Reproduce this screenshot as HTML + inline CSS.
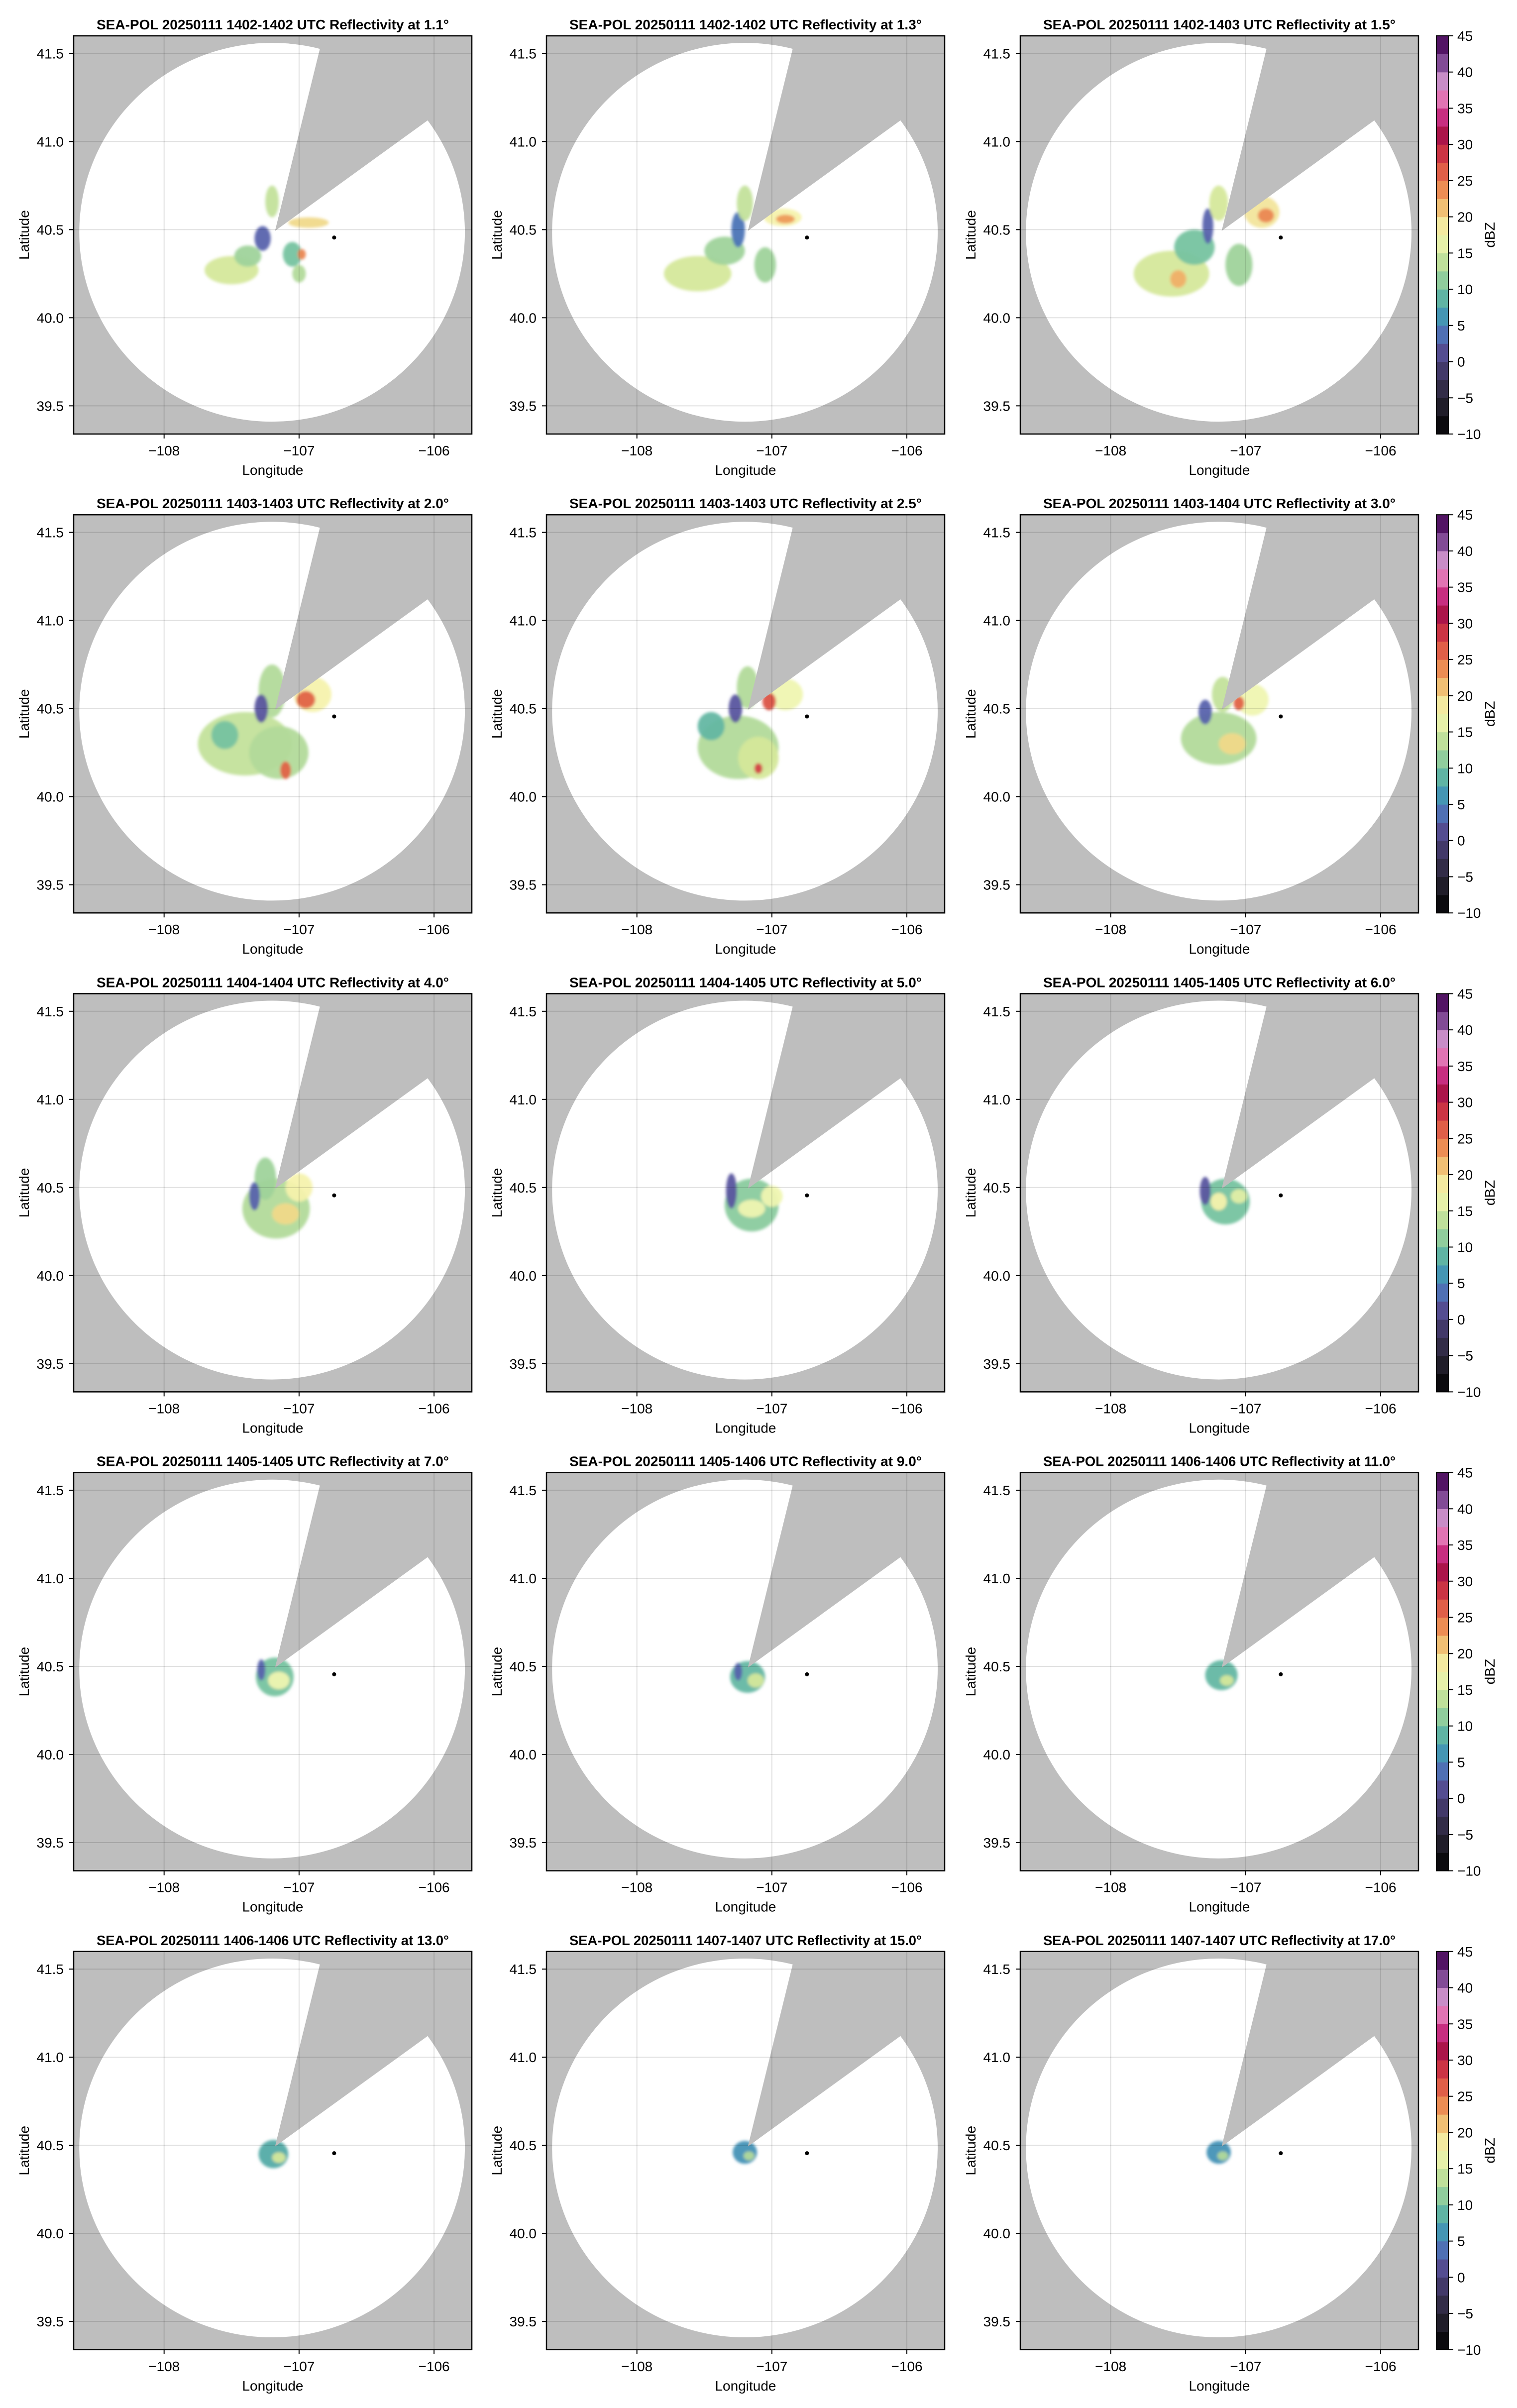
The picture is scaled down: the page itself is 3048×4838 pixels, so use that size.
<!DOCTYPE html>
<html><head><meta charset="utf-8"><style>
html,body{margin:0;padding:0;background:#fff;}
svg{display:block;font-family:"Liberation Sans",Arial,sans-serif;}
</style></head><body>
<svg id="fig" xmlns="http://www.w3.org/2000/svg" width="3048" height="4838" viewBox="0 0 3048 4838">
<rect x="0" y="0" width="3048" height="4838" fill="#fff"/>
<defs><filter id="soft" x="-20%" y="-20%" width="140%" height="140%"><feGaussianBlur stdDeviation="3"/></filter></defs>
</svg>
<script>
const elevations=[1.1,1.3,1.5,2.0,2.5,3.0,4.0,5.0,6.0,7.0,9.0,11.0,13.0,15.0,17.0];
const times=["1402-1402","1402-1402","1402-1403","1403-1403","1403-1403","1403-1404","1404-1404","1404-1405","1405-1405","1405-1405","1405-1406","1406-1406","1406-1406","1407-1407","1407-1407"];
const xTicks=[-108,-107,-106];
const xTickLabels=["\u2212108","\u2212107","\u2212106"];
const yTicks=[39.5,40.0,40.5,41.0,41.5];
const yTickLabels=["39.5","40.0","40.5","41.0","41.5"];
const cbTicks=[-10,-5,0,5,10,15,20,25,30,35,40,45];
const cbTickLabels=["\u221210","\u22125","0","5","10","15","20","25","30","35","40","45"];
const radarLon=-107.178, radarLat=40.493;
const rangeCenterLon=-107.20, rangeCenterLat=40.485, rangeRLon=1.4285, rangeRLat=1.075;
const blockEdge1=[-106.845,41.529];
const blockEdge2=[-106.051,41.118];
const markerLon=-106.74, markerLat=40.455;
// echo blobs: [lon, lat, radiusLon, radiusLat, dBZ]
const echo1=[[-107.5,40.27,0.2,0.08,15],[-107.38,40.35,0.1,0.06,12],[-107.27,40.45,0.06,0.07,3],[-107.2,40.66,0.05,0.09,14],[-106.93,40.54,0.15,0.03,20],[-107.05,40.36,0.07,0.07,10],[-107.0,40.25,0.05,0.05,13],[-106.98,40.36,0.03,0.03,24]];
const echo2=[[-107.55,40.25,0.25,0.1,15],[-107.35,40.38,0.15,0.08,12],[-107.25,40.5,0.05,0.1,4],[-107.2,40.65,0.06,0.1,14],[-106.92,40.57,0.14,0.05,18],[-106.9,40.56,0.07,0.025,23],[-107.05,40.3,0.08,0.1,12]];
const echo3=[[-107.55,40.25,0.28,0.13,15],[-107.38,40.4,0.15,0.1,10],[-107.28,40.52,0.04,0.1,3],[-107.2,40.65,0.07,0.1,15],[-106.88,40.6,0.13,0.09,19],[-106.85,40.58,0.06,0.04,24],[-107.05,40.3,0.1,0.12,12],[-107.5,40.22,0.06,0.05,22]];
const echo4=[[-107.4,40.3,0.35,0.18,14],[-107.15,40.25,0.22,0.15,13],[-107.2,40.6,0.1,0.15,13],[-107.28,40.5,0.05,0.08,2],[-106.9,40.58,0.14,0.1,18],[-106.95,40.55,0.07,0.05,26],[-107.1,40.15,0.04,0.05,26],[-107.55,40.35,0.1,0.08,10]];
const echo5=[[-107.25,40.28,0.3,0.18,13],[-107.1,40.22,0.15,0.12,15],[-107.18,40.62,0.08,0.12,13],[-107.27,40.5,0.05,0.08,2],[-106.9,40.58,0.13,0.09,17],[-107.02,40.54,0.05,0.05,27],[-107.1,40.16,0.03,0.03,28],[-107.45,40.4,0.1,0.08,9]];
const echo6=[[-107.2,40.33,0.28,0.15,13],[-107.17,40.58,0.08,0.1,14],[-107.3,40.48,0.05,0.07,3],[-106.95,40.55,0.12,0.09,17],[-107.05,40.53,0.04,0.04,26],[-107.1,40.3,0.1,0.06,20]];
const echo7=[[-107.17,40.38,0.25,0.17,13],[-107.25,40.55,0.08,0.12,12],[-107.33,40.45,0.04,0.08,3],[-107.0,40.5,0.1,0.08,18],[-107.1,40.35,0.1,0.06,20]];
const echo8=[[-107.15,40.4,0.2,0.15,11],[-107.3,40.48,0.04,0.1,2],[-107.0,40.45,0.08,0.06,17],[-107.15,40.38,0.1,0.05,17]];
const echo9=[[-107.15,40.42,0.18,0.13,10],[-107.3,40.48,0.04,0.08,2],[-107.05,40.45,0.06,0.04,16],[-107.2,40.42,0.06,0.05,18]];
const echo10=[[-107.18,40.44,0.14,0.11,10],[-107.28,40.48,0.03,0.06,3],[-107.15,40.42,0.08,0.05,17]];
const echo11=[[-107.18,40.44,0.13,0.09,9],[-107.25,40.47,0.03,0.05,3],[-107.12,40.42,0.06,0.04,15]];
const echo12=[[-107.18,40.45,0.12,0.085,9],[-107.14,40.42,0.05,0.03,15]];
const echo13=[[-107.19,40.45,0.11,0.08,8],[-107.15,40.43,0.05,0.03,15]];
const echo14=[[-107.2,40.46,0.09,0.065,6],[-107.17,40.44,0.04,0.025,13]];
const echo15=[[-107.2,40.46,0.09,0.065,6],[-107.17,40.44,0.04,0.025,13]];
const echoes=[echo1,echo2,echo3,echo4,echo5,echo6,echo7,echo8,echo9,echo10,echo11,echo12,echo13,echo14,echo15];

const NS="http://www.w3.org/2000/svg";
const svg=document.getElementById('fig');
const lonMin=-108.67, lonMax=-105.72, latMin=39.34, latMax=41.60;
const colL=[148,1098,2050], colW=[800,800,800];
const rowT0=72, rowStep=962.2, axH=800;
const cstops=[[-10,[0,0,0]],[-5,[42,38,54]],[0,[74,63,122]],[2.5,[94,90,168]],[5,[63,134,191]],[7.5,[74,165,168]],[10,[118,195,160]],[12.5,[169,215,154]],[15,[213,232,155]],[17.5,[246,248,182]],[20,[240,217,138]],[22.5,[240,165,94]],[25,[232,116,74]],[27.5,[216,74,70]],[30,[190,30,65]],[32,[160,16,79]],[34,[205,50,135]],[36,[225,110,175]],[38,[224,160,210]],[40,[160,110,180]],[42.5,[100,40,120]],[45,[64,0,80]]];
function cmap(v){
  if(v<=cstops[0][0])return 'rgb(0,0,0)';
  for(let i=1;i<cstops.length;i++){
    if(v<=cstops[i][0]){const a=cstops[i-1],b=cstops[i];const t=(v-a[0])/(b[0]-a[0]);
      const c=a[1].map((q,k)=>Math.round(q+(b[1][k]-q)*t));return `rgb(${c[0]},${c[1]},${c[2]})`;}
  }
  const c=cstops[cstops.length-1][1];return `rgb(${c[0]},${c[1]},${c[2]})`;
}
function mk(tag,attrs,parent){const e=document.createElementNS(NS,tag);for(const k in attrs)e.setAttribute(k,attrs[k]);(parent||svg).appendChild(e);return e;}

for(let p=0;p<15;p++){
  const col=p%3,row=Math.floor(p/3);
  const L=colL[col],W=colW[col],T=rowT0+row*rowStep,H=axH;
  const xs=lon=>L+(lon-lonMin)/(lonMax-lonMin)*W;
  const ys=lat=>T+(latMax-lat)/(latMax-latMin)*H;
  const g=mk('g',{});
  
  
  const cp=mk('clipPath',{id:'clip'+p},g);
  mk('rect',{x:L,y:T,width:W,height:H},cp);
  const bg=mk('rect',{x:L,y:T,width:W,height:H,fill:'#bebebe'},g);
  
  
  const pg=mk('g',{'clip-path':`url(#clip${p})`},g);
  const rng=mk('ellipse',{cx:xs(rangeCenterLon),cy:ys(rangeCenterLat),rx:rangeRLon*W/(lonMax-lonMin),ry:rangeRLat*H/(latMax-latMin),fill:'#fff'},pg);
  
  
  const eg=mk('g',{filter:'url(#soft)'},pg);
  
  
  echoes[p].forEach(b=>{
    const e=mk('ellipse',{cx:xs(b[0]),cy:ys(b[1]),rx:b[2]*W/(lonMax-lonMin),ry:b[3]*H/(latMax-latMin),fill:cmap(b[4]),'fill-opacity':0.95},eg);
    
    
  });
  const ax=xs(radarLon),ay=ys(radarLat);
  const p1x=ax+(xs(blockEdge1[0])-ax)*3,p1y=ay+(ys(blockEdge1[1])-ay)*3;
  const p2x=ax+(xs(blockEdge2[0])-ax)*3,p2y=ay+(ys(blockEdge2[1])-ay)*3;
  const wd=mk('polygon',{points:`${ax},${ay} ${p1x},${p1y} ${p2x},${p1y} ${p2x},${p2y}`,fill:'#bebebe'},pg);
  
  
  xTicks.forEach(v=>{const l=mk('line',{x1:xs(v),x2:xs(v),y1:T,y2:T+H,stroke:'rgba(0,0,0,0.12)','stroke-width':2},pg);
    });
  yTicks.forEach(v=>{const l=mk('line',{x1:L,x2:L+W,y1:ys(v),y2:ys(v),stroke:'rgba(0,0,0,0.12)','stroke-width':2},pg);
    });
  const mkr=mk('circle',{cx:xs(markerLon),cy:ys(markerLat),r:4,fill:'#000'},pg);
  
  
  const fr=mk('rect',{x:L,y:T,width:W,height:H,fill:'none',stroke:'#000','stroke-width':2.5},g);
  
  
  xTicks.forEach((v,i)=>{
    mk('line',{x1:xs(v),x2:xs(v),y1:T+H,y2:T+H+9,stroke:'#000','stroke-width':2},g);
    const t=mk('text',{x:xs(v),y:T+H+43,'font-size':28,'text-anchor':'middle',fill:'#000'},g);
    t.textContent=xTickLabels[i];
    
  });
  yTicks.forEach((v,i)=>{
    mk('line',{x1:L-9,x2:L,y1:ys(v),y2:ys(v),stroke:'#000','stroke-width':2},g);
    const t=mk('text',{x:L-20,y:ys(v)+10,'font-size':28,'text-anchor':'end',fill:'#000'},g);
    t.textContent=yTickLabels[i];
    
  });
  const xl=mk('text',{x:L+W/2,y:T+H+82,'font-size':28,'text-anchor':'middle',fill:'#000'},g);
  xl.textContent='Longitude';
  
  const yl=mk('text',{x:0,y:0,'font-size':28,'text-anchor':'middle',fill:'#000',transform:`translate(${L-90},${T+H/2}) rotate(-90)`},g);
  yl.textContent='Latitude';
  
  const tt=mk('text',{x:L+W/2,y:T-13,'font-size':28,'font-weight':'bold','text-anchor':'middle',fill:'#000',textLength:708,lengthAdjust:'spacingAndGlyphs'},g);
  tt.textContent=`SEA-POL 20250111 ${times[p]} UTC Reflectivity at ${elevations[p].toFixed(1)}\u00b0`;
  

  if(col===2){
    const cg=mk('g',{});
    
    
    const cbL=2886,cbW=24;
    const cy=v=>T+H-(v+10)/55*H;
    for(let v=-10;v<45;v+=2.5){
      mk('rect',{x:cbL,y:cy(v+2.5),width:cbW,height:cy(v)-cy(v+2.5)+0.6,fill:cmap(v+1.25)},cg);
    }
    mk('rect',{x:cbL,y:T,width:cbW,height:H,fill:'none',stroke:'#000','stroke-width':2},cg);
    cbTicks.forEach((v,i)=>{
      mk('line',{x1:cbL+cbW,x2:cbL+cbW+10,y1:cy(v),y2:cy(v),stroke:'#000','stroke-width':2},cg);
      const t=mk('text',{x:2928,y:cy(v)+10,'font-size':28,fill:'#000'},cg);
      t.textContent=cbTickLabels[i];
      
    });
    const cl=mk('text',{x:0,y:0,'font-size':28,'text-anchor':'middle',fill:'#000',transform:`translate(${3003},${T+H/2}) rotate(-90)`},cg);
    cl.textContent='dBZ';
    
  }
}
</script>
</body></html>
